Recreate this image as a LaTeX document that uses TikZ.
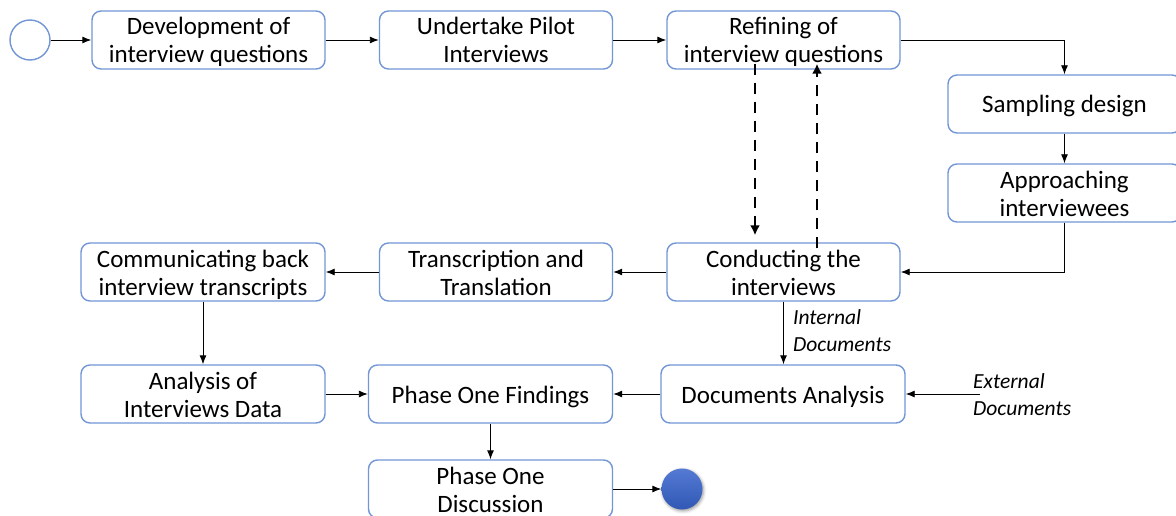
\documentclass[tikz,border=0pt]{standalone}
\usepackage{fontspec}
\setmainfont{Carlito}
\usetikzlibrary{arrows.meta,shadows.blur}
\definecolor{boxblue}{RGB}{114,150,214}
\definecolor{balltop}{RGB}{84,122,212}
\definecolor{ballbot}{RGB}{48,88,180}
% fixed first-line height and last-line depth, so every box sets its lines alike
\newcommand\tallstrut{\rule{0pt}{24pt}}
\newcommand\deepstrut{\rule[-6pt]{0pt}{6pt}}
\tikzset{
  stepbox/.style={draw=boxblue, line width=1.4pt, rounded corners=9pt, fill=white,
    minimum width=233pt, minimum height=58pt, align=center, inner sep=0pt,
    font=\fontsize{25}{28}\selectfont},
  widebox/.style={stepbox, minimum width=244pt},
  flow/.style={line width=0.9pt, -{Latex[length=9pt,width=7pt]}},
  loop/.style={line width=2.8pt, dash pattern=on 11pt off 8pt, -{Latex[length=10pt,width=10pt]}},
  note/.style={font=\fontsize{21.5}{27}\selectfont\itshape, align=left, inner sep=0pt, anchor=west}
}
\begin{document}
\begin{tikzpicture}[x=1pt,y=-1pt]
\useasboundingbox (0,0) rectangle (1176,516);
% start and end events
\node (start) [circle, draw=boxblue, line width=1.4pt, minimum size=40pt, inner sep=0pt] at (30,40) {};
\node (finish) [circle, top color=balltop, bottom color=ballbot, draw=none, minimum size=41pt, inner sep=0pt,
  blur shadow={shadow xshift=1pt, shadow yshift=-1.5pt, shadow blur radius=3pt, shadow opacity=40}] at (682,489) {};
% process steps
\node (dev)   [stepbox] at (208.5,40)  {\tallstrut Development of\\interview questions\deepstrut};
\node (pilot) [stepbox] at (496,40)    {\tallstrut Undertake Pilot\\Interviews\deepstrut};
\node (refine)[stepbox] at (783.5,40)  {\tallstrut Refining of\\interview questions\deepstrut};
\node (samp)  [stepbox] at (1064.5,104){\tallstrut Sampling design\deepstrut};
\node (appr)  [stepbox] at (1064.5,193){\tallstrut Approaching\\interviewees\deepstrut};
\node (cond)  [stepbox] at (783.5,272) {\tallstrut Conducting the\\interviews\deepstrut};
\node (trans) [stepbox] at (496,272)   {\tallstrut Transcription and\\Translation\deepstrut};
\node (comm)  [widebox] at (203,272)   {\tallstrut Communicating back\\interview transcripts\deepstrut};
\node (anal)  [widebox] at (203,394)   {\tallstrut Analysis of\\Interviews Data\deepstrut};
\node (find)  [widebox] at (490.5,394) {\tallstrut Phase One Findings\deepstrut};
\node (docs)  [widebox] at (783,394)   {\tallstrut Documents Analysis\deepstrut};
\node (disc)  [widebox] at (490.5,489) {\tallstrut Phase One\\Discussion\deepstrut};
% document labels
\node (intl) [note] at (793,331) {Internal\\Documents};
\node (extl) [note] at (973,395) {External\\Documents};
\coordinate (extsrc) at (980,394);
% connectors
\draw[flow] (start) -- (dev);
\draw[flow] (dev) -- (pilot);
\draw[flow] (pilot) -- (refine);
\draw[flow] (refine.east) -| (samp.north);
\draw[flow] (samp) -- (appr);
\draw[flow] (appr.south) |- (cond.east);
\draw[loop] ([xshift=-28.5pt,yshift=6pt]refine.south) -- ([xshift=-28.5pt,yshift=7pt]cond.north);
\draw[loop] ([xshift=33.5pt,yshift=-6pt]cond.north) -- ([xshift=33.5pt,yshift=6pt]refine.south);
\draw[flow] (cond) -- (trans);
\draw[flow] (trans) -- (comm);
\draw[flow] (comm) -- (anal);
\draw[flow] (anal) -- (find);
\draw[flow] (docs) -- (find);
\draw[flow] (cond.south) -- (docs.north -| cond.south);
\draw[flow] (extsrc) -- (docs.east);
\draw[flow] (find) -- (disc);
\draw[flow] (disc.east |- finish) -- (finish);
\end{tikzpicture}
\end{document}
